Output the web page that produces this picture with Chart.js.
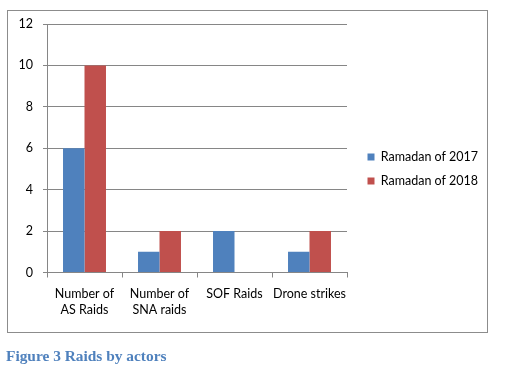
<!DOCTYPE html>
<html>
<head>
<meta charset="utf-8">
<script src="https://cdn.jsdelivr.net/npm/chart.js@4"></script>
<style>
  body { margin: 0; background: #fff; }
  #wrap { position: relative; width: 510px; height: 373px; }
  #frame { position: absolute; left: 7px; top: 10px; width: 479px; height: 321px; border: 1px solid #8c8c8c; }
  #chart { position: absolute; left: 0; top: 0; }
  #caption { position: absolute; left: 6px; top: 347px; font: bold 15.4px "Liberation Serif", "Times New Roman", serif; color: #4f81bd; }
</style>
</head>
<body>
<div id="wrap">
  <div id="frame"></div>
  <canvas id="chart" width="510" height="373"></canvas>
  <div id="caption">Figure 3 Raids by actors</div>
</div>
<script>
// data
const categories = [['Number of', 'AS Raids'], ['Number of', 'SNA raids'], 'SOF Raids', 'Drone strikes'];
const seriesNames = ['Ramadan of 2017', 'Ramadan of 2018'];
const ramadan2017 = [6, 1, 2, 1];
const ramadan2018 = [10, 2, 0, 2];
const yTicks = [0, 2, 4, 6, 8, 10, 12];

const gridColor = '#868686';
const font = { family: 'Lato', size: 12.5, lineHeight: 1.28 };

// legend sits a bit away from the plot in the original, and needs more room
// than the layout gives a right-hand box
const legendShift = {
  id: 'legendShift',
  afterLayout(chart) {
    const lg = chart.legend;
    lg.left = chart.chartArea.right + 9;
    lg.right = lg.left + 135;
    lg.width = 135;
  }
};

const ctx = document.getElementById('chart').getContext('2d');
new Chart(ctx, {
  type: 'bar',
  data: {
    labels: categories,
    datasets: [
      {
        label: seriesNames[0],
        data: ramadan2017,
        backgroundColor: '#4f81bd',
        categoryPercentage: 0.573,
        barPercentage: 1
      },
      {
        label: seriesNames[1],
        data: ramadan2018,
        backgroundColor: '#c0504d',
        categoryPercentage: 0.573,
        barPercentage: 1
      }
    ]
  },
  options: {
    responsive: false,
    animation: false,
    layout: { padding: { top: 24, bottom: 59, left: 8, right: 50 } },
    plugins: {
      legend: {
        position: 'right',
        labels: { boxWidth: 7, boxHeight: 7, padding: 11.5, color: '#000', font: font }
      },
      tooltip: { enabled: false },
      title: { display: false }
    },
    scales: {
      x: {
        grid: { offset: true, drawOnChartArea: false, tickLength: 5, color: gridColor },
        border: { color: gridColor },
        ticks: { color: '#000', font: font, padding: 8, maxRotation: 0, autoSkip: false },
        afterFit(scale) { scale.height = 41.5; }
      },
      y: {
        min: 0,
        max: 12,
        afterBuildTicks(scale) { scale.ticks = yTicks.map(v => ({ value: v })); },
        grid: { color: gridColor, tickLength: 4 },
        border: { color: gridColor },
        ticks: { color: '#000', font: font, padding: 10 },
        afterFit(scale) { scale.width = 39; }
      }
    }
  },
  plugins: [legendShift]
});
</script>
</body>
</html>
